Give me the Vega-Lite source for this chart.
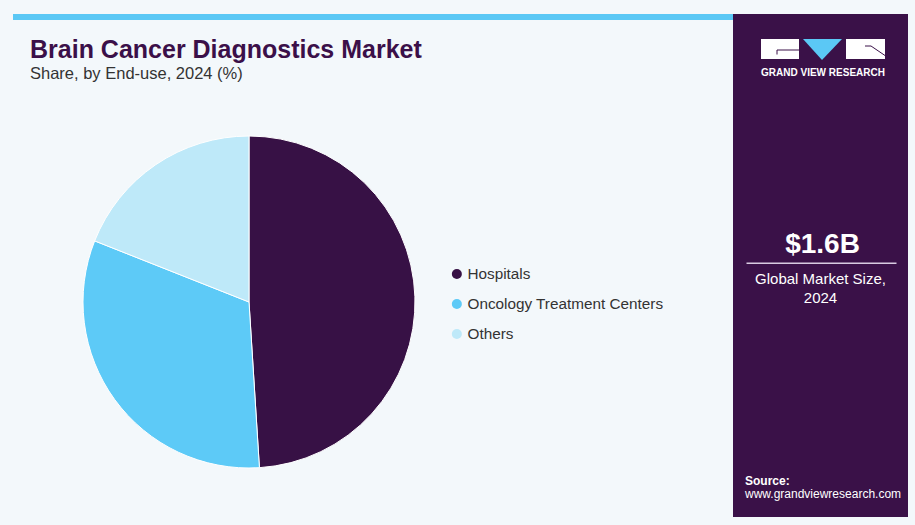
{
  "$schema": "https://vega.github.io/schema/vega-lite/v6.json",
  "background": "#F3F8FB",
  "padding": {"left": 13, "top": 14, "right": 7, "bottom": 8},
  "config": {"view": {"stroke": null}, "font": "Liberation Sans"},
  "datasets": {
    "share": [
      {"end_use": "Hospitals", "share": 49.0},
      {"end_use": "Oncology Treatment Centers", "share": 32.0},
      {"end_use": "Others", "share": 19.0}
    ],
    "summary": [
      {"market_size": "$1.6B", "caption": "Global Market Size,", "year": "2024", "source_label": "Source:", "source": "www.grandviewresearch.com", "brand": "GRAND VIEW RESEARCH"}
    ]
  },
  "spacing": 0,
  "hconcat": [
    {
      "spacing": 18,
      "vconcat": [
        {
          "width": 720,
          "height": 6,
          "view": {"fill": "#5BC8F5", "stroke": null},
          "data": {"values": [{}]},
          "mark": {"type": "text", "text": "", "fontSize": 1, "baseline": "top"},
          "encoding": {}
        },
        {
          "width": 472,
          "height": 332,
          "title": {
            "text": "Brain Cancer Diagnostics Market",
            "subtitle": "Share, by End-use, 2024 (%)",
            "anchor": "start",
            "frame": "group",
            "dx": 17,
            "font": "Liberation Sans",
            "fontSize": 25,
            "fontWeight": "bold",
            "color": "#3B1049",
            "subtitleFont": "Liberation Sans",
            "subtitleFontSize": 16.5,
            "subtitleColor": "#333333",
            "subtitlePadding": 3,
            "offset": 51.5
          },
          "data": {"name": "share"},
          "mark": {"type": "arc", "stroke": "#FFFFFF", "strokeWidth": 1},
          "encoding": {
            "theta": {"field": "share", "type": "quantitative", "stack": true},
            "color": {
              "field": "end_use",
              "type": "nominal",
              "scale": {
                "domain": ["Hospitals", "Oncology Treatment Centers", "Others"],
                "range": ["#371145", "#5DCAF7", "#BEE9F9"]
              },
              "legend": {
                "orient": "none",
                "legendX": 436.2,
                "legendY": 252.3,
                "title": null,
                "padding": 0,
                "symbolType": "circle",
                "symbolSize": 100,
                "symbolStrokeWidth": 0,
                "labelFont": "Liberation Sans",
                "labelFontSize": 15.3,
                "labelColor": "#333333",
                "labelOffset": 3,
                "labelLimit": 0,
                "rowPadding": 14
              }
            }
          }
        }
      ]
    },
    {
      "width": 175,
      "height": 503,
      "view": {"fill": "#3A1148", "stroke": null},
      "data": {"name": "summary"},
      "layer": [
        {
          "mark": {"type": "point", "shape": "M -59.5 -226.5 H -21.5 V -206.5 H -59.5 Z M 25.5 -226.5 H 64.5 V -206.5 H 25.5 Z", "size": 4, "filled": true, "color": "#FFFFFF", "opacity": 1, "strokeWidth": 0},
          "encoding": {}
        },
        {
          "mark": {"type": "point", "shape": "M -17.5 -226.5 H 21.5 L 1.5 -205.5 Z", "size": 4, "filled": true, "color": "#5BC8F5", "opacity": 1, "strokeWidth": 0},
          "encoding": {}
        },
        {
          "mark": {"type": "point", "shape": "M -43.5 -211 V -215.5 H -21.5 M 44.5 -219.5 H 50.5 L 64.5 -210", "size": 4, "filled": false, "color": "#3A1148", "opacity": 1, "strokeWidth": 1},
          "encoding": {}
        },
        {
          "mark": {"type": "point", "shape": "M -74 -2.2 H 76", "size": 4, "filled": false, "color": "#D9CBE2", "opacity": 1, "strokeWidth": 1.5},
          "encoding": {}
        },
        {
          "mark": {"type": "text", "font": "Liberation Sans", "fontSize": 10, "fontWeight": "bold", "color": "#FFFFFF", "baseline": "alphabetic", "align": "center", "dx": 2.5, "dy": -189.5},
          "encoding": {"text": {"field": "brand"}}
        },
        {
          "mark": {"type": "text", "font": "Liberation Sans", "fontSize": 28, "fontWeight": "bold", "color": "#FFFFFF", "baseline": "alphabetic", "align": "center", "dx": 2, "dy": -12.8},
          "encoding": {"text": {"field": "market_size"}}
        },
        {
          "mark": {"type": "text", "font": "Liberation Sans", "fontSize": 15, "color": "#FFFFFF", "baseline": "alphabetic", "align": "center", "dx": 0, "dy": 18.5},
          "encoding": {"text": {"field": "caption"}}
        },
        {
          "mark": {"type": "text", "font": "Liberation Sans", "fontSize": 15, "color": "#FFFFFF", "baseline": "alphabetic", "align": "center", "dx": 0, "dy": 37},
          "encoding": {"text": {"field": "year"}}
        },
        {
          "mark": {"type": "text", "font": "Liberation Sans", "fontSize": 12, "fontWeight": "bold", "color": "#FFFFFF", "baseline": "alphabetic", "align": "left", "dx": -75.5, "dy": 219.5},
          "encoding": {"text": {"field": "source_label"}}
        },
        {
          "mark": {"type": "text", "font": "Liberation Sans", "fontSize": 12, "color": "#FFFFFF", "baseline": "alphabetic", "align": "left", "dx": -75.5, "dy": 232},
          "encoding": {"text": {"field": "source"}}
        }
      ]
    }
  ]
}
